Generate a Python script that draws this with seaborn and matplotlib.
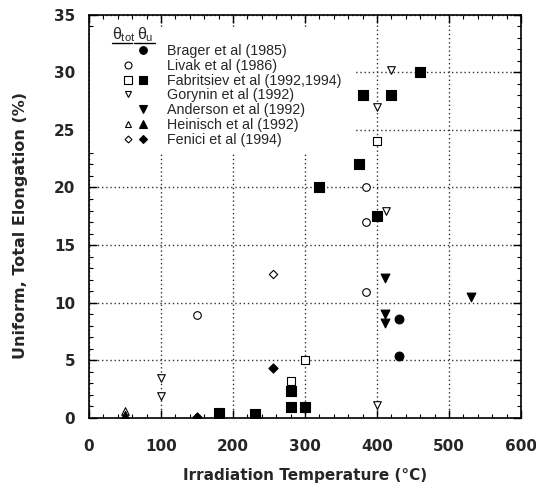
import numpy as np
import pandas as pd
import matplotlib
matplotlib.use("Agg")
import matplotlib.pyplot as plt
import seaborn as sns
from matplotlib.lines import Line2D
from matplotlib.patches import Rectangle
from matplotlib.legend_handler import HandlerTuple
from matplotlib.ticker import MultipleLocator

# ---- data (temperature °C, elongation %) ----
brager_u_T = [430, 430]
brager_u_E = [8.6, 5.4]
livak_tot_T = [150, 385, 385, 385]
livak_tot_E = [8.9, 20.0, 17.0, 10.9]
fab_tot_T = [280, 300, 400]
fab_tot_E = [3.2, 5.0, 24.0]
fab_u_T = [180, 230, 280, 280, 300, 320, 375, 380, 400, 420, 460]
fab_u_E = [0.4, 0.3, 0.9, 2.3, 0.9, 20.0, 22.0, 28.0, 17.5, 28.0, 30.0]
gor_tot_T = [100, 100, 400, 412, 400, 420]
gor_tot_E = [3.5, 1.9, 1.1, 18.0, 27.0, 30.2]
and_u_T = [411, 411, 411, 530]
and_u_E = [12.1, 9.0, 8.2, 10.5]
hei_tot_T = [50]
hei_tot_E = [0.6]
hei_u_T = [50]
hei_u_E = [0.25]
fen_tot_T = [255]
fen_tot_E = [12.5]
fen_u_T = [150, 255]
fen_u_E = [0.1, 4.3]

sources = ["Brager et al (1985)", "Livak et al (1986)", "Fabritsiev et al (1992,1994)",
           "Gorynin et al (1992)", "Anderson et al (1992)", "Heinisch et al (1992)",
           "Fenici et al (1994)"]

sns.set_theme(style="ticks")
plt.rcParams['font.family'] = ['Liberation Sans', 'DejaVu Sans']
plt.rcParams['mathtext.fontset'] = 'custom'
plt.rcParams['mathtext.rm'] = 'Liberation Sans'
plt.rcParams['mathtext.it'] = 'Liberation Sans'

fig = plt.figure(figsize=(5.36, 4.91), dpi=100)
ax = fig.add_axes([0.166, 0.149, 0.806, 0.821])

groups = [
    # T, E, marker, filled, size
    (brager_u_T, brager_u_E, 'o', True, 40),
    (livak_tot_T, livak_tot_E, 'o', False, 30),
    (fab_tot_T, fab_tot_E, 's', False, 40),
    (fab_u_T, fab_u_E, 's', True, 45),
    (gor_tot_T, gor_tot_E, 'v', False, 30),
    (and_u_T, and_u_E, 'v', True, 40),
    (hei_tot_T, hei_tot_E, '^', False, 30),
    (hei_u_T, hei_u_E, '^', True, 35),
    (fen_tot_T, fen_tot_E, 'D', False, 18),
    (fen_u_T, fen_u_E, 'D', True, 22),
]
for T, E, m, filled, s in groups:
    df = pd.DataFrame({"T": T, "E": E})
    sns.scatterplot(data=df, x="T", y="E", marker=m, s=s,
                    facecolor='black' if filled else 'white',
                    edgecolor='black', linewidth=0.8, ax=ax, zorder=3)

ax.set_xlim(0, 600)
ax.set_ylim(0, 35)
ax.xaxis.set_major_locator(MultipleLocator(100))
ax.xaxis.set_minor_locator(MultipleLocator(20))
ax.yaxis.set_major_locator(MultipleLocator(5))
ax.yaxis.set_minor_locator(MultipleLocator(1))
ax.tick_params(which='both', direction='in', top=True, right=True, color='black')
ax.tick_params(which='major', length=6, width=1, labelsize=11)
ax.tick_params(axis='x', which='major', pad=15)
ax.tick_params(axis='y', which='major', pad=10)
ax.tick_params(which='minor', length=3, width=0.8)
for lab in ax.get_xticklabels() + ax.get_yticklabels():
    lab.set_fontweight('bold')
    lab.set_family('DejaVu Sans')
ax.grid(True, which='major', linestyle=(0, (1, 2)), color='#333333', linewidth=1.0)
for sp in ax.spines.values():
    sp.set_linewidth(1.2)
    sp.set_color('black')

ax.set_xlabel("Irradiation Temperature (°C)", fontsize=11, fontweight='bold',
              family='DejaVu Sans', labelpad=10)
ax.set_ylabel("Uniform, Total Elongation (%)", fontsize=11.5, fontweight='bold',
              family='DejaVu Sans')
ax.yaxis.set_label_coords(-0.14, 0.476)

# white area behind the legend (grid is hidden there)
ax.add_patch(Rectangle((0.003, 0.658), 0.613, 0.31, transform=ax.transAxes,
                       facecolor='white', edgecolor='none', zorder=1))

# ---- legend ----
blank = Line2D([], [], linestyle='none', marker=None)
def mk(m, filled, ms):
    return Line2D([], [], linestyle='none', marker=m, markersize=ms,
                  markerfacecolor='black' if filled else 'white',
                  markeredgecolor='black', markeredgewidth=0.8)
handles = [
    (blank, mk('o', True, 5.5)),
    (mk('o', False, 5), blank),
    (mk('s', False, 5.5), mk('s', True, 5.5)),
    (mk('v', False, 5), blank),
    (blank, mk('v', True, 5.5)),
    (mk('^', False, 5), mk('^', True, 5.5)),
    (mk('D', False, 3.5), mk('D', True, 4)),
]
leg = ax.legend(handles, sources, handler_map={tuple: HandlerTuple(ndivide=None, pad=0.6)},
                loc='upper left', bbox_to_anchor=(0.0697, 0.942), frameon=False,
                fontsize=10.3, handlelength=1.5, handletextpad=1.45, labelspacing=0.06,
                borderaxespad=0)
leg.set_zorder(4)

# legend column header
ax.text(0.053, 0.950, r"$\theta_{tot}$", transform=ax.transAxes, fontsize=11.5,
        ha='left', va='center')
ax.text(0.111, 0.950, r"$\theta_u$", transform=ax.transAxes, fontsize=11.5,
        ha='left', va='center')
ax.plot([0.053, 0.100], [0.931, 0.931], transform=ax.transAxes, color='black', lw=1.0)
ax.plot([0.105, 0.153], [0.931, 0.931], transform=ax.transAxes, color='black', lw=1.0)

fig.savefig("out.png", dpi=100)
